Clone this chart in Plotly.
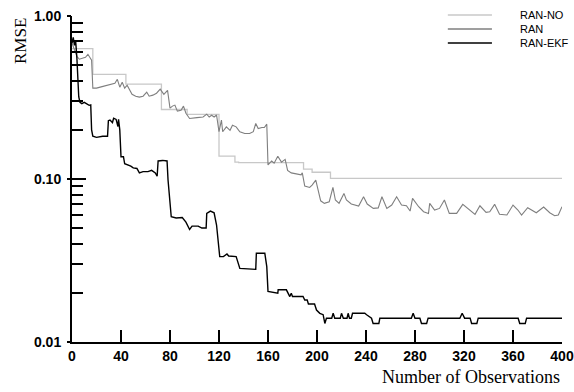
import plotly.graph_objects as go

# ---------------- data ----------------
series_names = ["RAN-NO", "RAN", "RAN-EKF"]
series_colors = ["#c8c8c8", "#7f7f7f", "#000000"]

ran_no_x = [0, 17, 44, 73, 94, 120, 133, 136, 189, 196, 211, 400]
ran_no_y = [0.631, 0.438, 0.382, 0.267, 0.249, 0.138, 0.127, 0.126, 0.115, 0.110, 0.101, 0.101]

ran_x = [0, 2, 4, 6, 9, 11, 13, 15, 16, 17, 20, 23, 26, 29, 32, 35, 37, 39, 41, 43,
         45, 47, 49, 52, 55, 58, 61, 63, 66, 69, 72, 75, 78, 80, 82, 84, 86, 89, 91, 93,
         96, 102, 107, 110, 112, 114, 116, 118, 120, 122, 123, 126, 129, 131, 134, 137, 141, 145, 148, 150,
         152, 155, 157, 159, 160, 163, 165, 168, 171, 174, 176, 179, 183, 187, 188, 190, 194, 196, 199, 201,
         203, 206, 210, 213, 215, 218, 222, 224, 228, 234, 238, 241, 246, 250, 253, 257, 261, 265, 269, 273,
         276, 278, 283, 287, 291, 292, 296, 300, 304, 308, 314, 319, 323, 329, 333, 338, 341, 345, 349, 355,
         360, 364, 367, 372, 379, 385, 390, 394, 397, 400]
ran_y = [0.68, 0.616, 0.566, 0.543, 0.551, 0.558, 0.582, 0.543, 0.535, 0.361, 0.361, 0.366, 0.371, 0.376, 0.381, 0.387, 0.409, 0.366, 0.392, 0.361,
         0.376, 0.350, 0.331, 0.322, 0.318, 0.322, 0.341, 0.322, 0.327, 0.336, 0.356, 0.331, 0.350, 0.272, 0.280, 0.284, 0.261, 0.264, 0.280, 0.253,
         0.235, 0.238, 0.240, 0.250, 0.240, 0.246, 0.240, 0.247, 0.195, 0.230, 0.195, 0.209, 0.199, 0.214, 0.209, 0.195, 0.190, 0.190, 0.195, 0.219,
         0.204, 0.207, 0.207, 0.217, 0.122, 0.129, 0.125, 0.138, 0.127, 0.132, 0.113, 0.109, 0.107, 0.106, 0.109, 0.0905, 0.0888, 0.0918, 0.0985, 0.0855,
         0.0735, 0.0709, 0.0725, 0.0888, 0.0743, 0.0709, 0.0816, 0.0743, 0.0702, 0.0682, 0.0778, 0.0702, 0.0660, 0.0665, 0.0778, 0.0660, 0.0692, 0.0778, 0.0692, 0.0685,
         0.0636, 0.0760, 0.0676, 0.0630, 0.0615, 0.0709, 0.0645, 0.0660, 0.0743, 0.0615, 0.0615, 0.0699, 0.0660, 0.0607, 0.0685, 0.0624, 0.0630, 0.0699, 0.0607, 0.0601,
         0.0692, 0.0645, 0.0601, 0.0666, 0.0621, 0.0673, 0.0621, 0.0595, 0.0601, 0.0676]

ekf_x = [0, 1, 2, 3, 4, 5.5, 6.5, 8, 10, 12, 14, 15.3, 16, 17, 20, 25, 29, 29.7, 31, 33,
         34, 36, 37.5, 38, 39, 40, 42, 43, 46, 48, 50, 53, 55, 58, 62, 65, 68, 69.5, 70.3, 74,
         77.6, 78.4, 81, 85, 90, 93, 96, 98, 103, 106, 109.5, 110, 113, 116, 118, 120.6, 123.6, 125.6, 126.5, 127.9,
         134, 137, 150, 150.5, 157.4, 159, 160, 168, 168.3, 175, 176.5, 177.8, 179, 180, 188.6, 190, 192, 193, 198, 199.6,
         202.3, 205, 206.4, 207.7, 212, 213.2, 214.5, 219, 220, 221.5, 224.5, 225.4, 226.5, 228, 229, 239, 240.5, 244.5, 245.8, 250.5,
         251.3, 277, 278.5, 280, 284, 285.3, 289.5, 290.7, 316.6, 318.5, 320.5, 325, 326.2, 330.5, 331.6, 364.2, 365.5, 370, 371.1, 400]
ekf_y = [0.68, 0.74, 0.66, 0.70, 0.55, 0.32, 0.295, 0.29, 0.295, 0.29, 0.283, 0.285, 0.20, 0.183, 0.18, 0.183, 0.183, 0.228, 0.23, 0.222,
         0.236, 0.232, 0.21, 0.232, 0.20, 0.137, 0.137, 0.124, 0.122, 0.12, 0.117, 0.116, 0.109, 0.111, 0.111, 0.113, 0.109, 0.104, 0.129, 0.13,
         0.129, 0.0985, 0.0587, 0.0576, 0.058, 0.0544, 0.049, 0.0514, 0.0514, 0.050, 0.050, 0.0615, 0.0635, 0.062, 0.0522, 0.0334, 0.0334, 0.0342, 0.0347, 0.0337,
         0.0334, 0.0283, 0.0279, 0.035, 0.035, 0.029, 0.0204, 0.0199, 0.0209, 0.0209, 0.0199, 0.019, 0.0199, 0.019, 0.019, 0.0181, 0.0181, 0.0171, 0.0171, 0.0157,
         0.015, 0.0147, 0.013, 0.014, 0.014, 0.015, 0.014, 0.014, 0.015, 0.014, 0.014, 0.015, 0.014, 0.014, 0.015, 0.015, 0.0147, 0.014, 0.013, 0.013,
         0.014, 0.014, 0.015, 0.014, 0.014, 0.013, 0.013, 0.014, 0.014, 0.015, 0.014, 0.014, 0.013, 0.013, 0.014, 0.014, 0.013, 0.013, 0.014, 0.014]

x_ticks = [0, 40, 80, 120, 160, 200, 240, 280, 320, 360, 400]
y_ticks = [0.01, 0.1, 1.0]
y_tick_text = ["0.01", "0.10", "1.00"]

# ---------------- figure ----------------
fig = go.Figure()
fig.add_trace(go.Scatter(x=ran_no_x, y=ran_no_y, mode="lines", line_shape="hv",
                         line=dict(color=series_colors[0], width=1.3), name=series_names[0]))
fig.add_trace(go.Scatter(x=ran_x, y=ran_y, mode="lines",
                         line=dict(color=series_colors[1], width=1.1), name=series_names[1]))
fig.add_trace(go.Scatter(x=ekf_x, y=ekf_y, mode="lines",
                         line=dict(color=series_colors[2], width=1.4), name=series_names[2]))
# helper trace for the outer part of the major y ticks
fig.add_trace(go.Scatter(x=[None], y=[None], yaxis="y2", showlegend=False, hoverinfo="skip"))

tick_font = dict(family="Liberation Sans", size=14, color="black", weight="bold")

fig.update_layout(
    width=574, height=392,
    margin=dict(l=72, r=12, t=16, b=50, autoexpand=False),
    paper_bgcolor="white", plot_bgcolor="white",
    showlegend=False,
    xaxis=dict(range=[0, 400], tickvals=x_ticks, ticks="inside", ticklen=12, tickwidth=2,
               tickcolor="black", showline=True, linewidth=2, linecolor="black",
               showgrid=False, zeroline=False, tickfont=tick_font, automargin=False),
    yaxis=dict(type="log", range=[-2, 0], tickvals=y_ticks, ticktext=y_tick_text,
               ticks="inside", ticklen=14, tickwidth=2, tickcolor="black",
               minor=dict(ticks="inside", ticklen=11, tickwidth=1.5, tickcolor="black", dtick="D1", showgrid=False),
               showline=True, linewidth=2, linecolor="black", ticklabelstandoff=6,
               showgrid=False, zeroline=False, tickfont=tick_font, automargin=False),
    yaxis2=dict(type="log", range=[-2, 0], overlaying="y", side="left", tickvals=y_ticks,
                ticks="outside", ticklen=4, tickwidth=2, tickcolor="black", automargin=False,
                showticklabels=False, showgrid=False, zeroline=False, showline=False),
)

# axis titles
fig.add_annotation(text="RMSE", xref="paper", yref="paper", x=-0.105, y=0.922,
                   textangle=-90, showarrow=False, xanchor="center", yanchor="middle",
                   font=dict(family="Liberation Serif", size=17, color="black"))
fig.add_annotation(text="Number of Observations", xref="paper", yref="paper", x=1.0, y=-0.107,
                   showarrow=False, xanchor="right", yanchor="middle",
                   font=dict(family="Liberation Serif", size=18, color="black"))

# legend (drawn manually to match key geometry)
leg_y = [1.003, 0.96, 0.917]
for name, color, ly in zip(series_names, series_colors, leg_y):
    fig.add_shape(type="line", xref="paper", yref="paper", x0=0.767, x1=0.857, y0=ly, y1=ly,
                  line=dict(color=color, width=1.5))
    fig.add_annotation(text=name, xref="paper", yref="paper", x=0.910, y=ly, showarrow=False,
                       xanchor="left", yanchor="middle",
                       font=dict(family="Liberation Sans", size=11, color="black"))

fig.write_html("out.html")
